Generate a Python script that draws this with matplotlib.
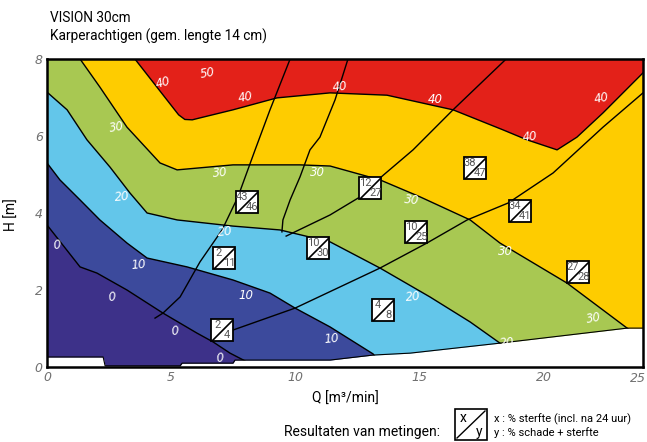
import matplotlib
matplotlib.use("Agg")
import matplotlib.pyplot as plt
from matplotlib import font_manager
from matplotlib.path import Path
from matplotlib.patches import Rectangle
from matplotlib.lines import Line2D

Q_MAX, H_MAX = 24.0, 8.0

# lower edge of the measured field (white underneath)
bot_q = [0, 2.26, 2.34, 5.36, 5.44, 7.49, 7.57, 11.4, 13.13, 14.62, 18.24, 23.36, 24.0]
bot_h = [0.26, 0.26, 0.03, 0.03, 0.10, 0.10, 0.18, 0.18, 0.31, 0.36, 0.62, 1.01, 1.01]

# iso-lines of % schade + sterfte
c0_q = [0, 1.33, 2.01, 3.22, 4.67, 6.04, 6.69, 7.37, 7.97, 8.26]
c0_h = [3.69, 2.60, 2.44, 2.00, 1.40, 0.88, 0.65, 0.36, 0.16, -0.05]
c10_q = [0, 0.52, 1.33, 2.13, 3.22, 4.03, 5.64, 7.49, 8.98, 9.99, 11.40, 13.13, 13.41]
c10_h = [5.30, 4.86, 4.34, 3.82, 3.22, 2.83, 2.60, 2.26, 1.92, 1.53, 1.04, 0.34, 0.10]
c20_q = [0, 0.81, 1.61, 2.54, 3.34, 4.03, 5.24, 7.49, 9.38, 11.40, 13.41, 15.42, 17.04, 18.24, 18.85]
c20_h = [7.14, 6.68, 5.90, 5.19, 4.52, 4.00, 3.82, 3.66, 3.56, 3.25, 2.57, 1.82, 1.17, 0.62, 0.31]
c30_q = [1.33, 2.13, 3.22, 4.55, 5.24, 7.49, 10.19, 11.40, 13.41, 15.02, 17.04, 18.24, 20.94, 23.36, 24.0]
c30_h = [8.0, 7.27, 6.23, 5.30, 5.12, 5.25, 5.25, 5.22, 4.86, 4.42, 3.82, 3.22, 2.18, 1.01, 0.70]
c40_q = [3.54, 5.30, 5.55, 5.85, 6.16, 7.49, 9.26, 11.40, 13.69, 16.35, 18.36, 19.33, 20.54, 21.34, 22.39, 24.0]
c40_h = [8.0, 6.55, 6.43, 6.42, 6.47, 6.68, 6.99, 7.12, 7.06, 6.68, 6.16, 5.90, 5.64, 5.97, 6.60, 7.64]

# pump / system curves
la_q = [7.49, 9.99, 13.41, 15.30, 16.92, 18.57, 20.38, 22.39, 24.0]
la_h = [0.96, 1.53, 2.57, 3.22, 3.82, 4.26, 5.04, 6.23, 7.12]
lb_q = [9.63, 11.40, 12.61, 13.41, 14.74, 16.35, 18.49]
lb_h = [3.40, 3.95, 4.42, 4.91, 5.64, 6.68, 8.0]
lc_q = [9.79, 8.98, 8.38, 7.69, 7.05, 6.16, 5.36, 4.67, 4.35]
lc_h = [8.0, 6.68, 5.64, 4.42, 3.56, 2.73, 1.82, 1.40, 1.27]
ld_q = [12.12, 11.60, 10.99, 10.59, 10.19, 9.79, 9.50, 9.46]
ld_h = [8.0, 6.94, 5.97, 5.64, 4.94, 4.34, 3.82, 3.51]

# measurements: x = % sterfte, y = % schade + sterfte
meas_q = [8.05, 13.01, 7.13, 10.91, 14.86, 17.24, 19.05, 21.39, 13.53, 7.05]
meas_h = [4.29, 4.65, 2.83, 3.09, 3.51, 5.17, 4.05, 2.47, 1.48, 0.96]
meas_x = [43, 12, 2, 10, 10, 38, 34, 27, 4, 2]
meas_y = [46, 27, 11, 30, 25, 47, 41, 28, 8, 4]

# iso-line labels
lab_txt = ["50", "40", "40", "40", "40", "40", "40",
           "30", "30", "30", "30", "30", "30",
           "20", "20", "20", "20", "10", "10", "10",
           "0", "0", "0", "0"]
lab_q = [6.45, 4.67, 8.0, 11.80, 15.63, 19.45, 22.35,
         2.82, 6.97, 10.88, 14.70, 18.45, 22.03,
         3.02, 7.17, 14.74, 18.53, 3.67, 8.02, 11.47,
         0.40, 2.62, 5.16, 6.97]
lab_h = [7.64, 7.38, 7.01, 7.27, 6.96, 5.97, 6.99,
         6.23, 5.04, 5.04, 4.34, 3.01, 1.27,
         4.42, 3.51, 1.82, 0.62, 2.65, 1.87, 0.73,
         3.17, 1.82, 0.94, 0.23]
lab_rot = [10, 15, 10, 5, 0, 5, 10,
           10, 5, 0, -5, 0, 10,
           5, 5, 5, 5, 5, 0, 5,
           5, 5, 5, 5]

band_colors = ["#3d3189", "#3c4a9c", "#63c6ea", "#a8c852", "#fecc00", "#e32119"]

names = {f.name for f in font_manager.fontManager.ttflist}
narrow = "Liberation Sans Narrow" if "Liberation Sans Narrow" in names else "Roboto"


def above(q, h, start, end):
    qs, hs = list(q), list(h)
    if end == "bottom":
        qs += [Q_MAX, Q_MAX]
        hs += [0, H_MAX]
    else:
        qs += [Q_MAX]
        hs += [H_MAX]
    if start == "left":
        qs += [0]
        hs += [H_MAX]
    return qs, hs


fig = plt.figure(figsize=(6.47, 4.42), dpi=100)
ax = fig.add_axes([47 / 647, 1 - 367 / 442, 596 / 647, 308 / 442])
ax.set_facecolor(band_colors[0])

contours = [(c0_q, c0_h, "left", "bottom"),
            (c10_q, c10_h, "left", "bottom"),
            (c20_q, c20_h, "left", "bottom"),
            (c30_q, c30_h, "top", "bottom"),
            (c40_q, c40_h, "top", "right")]
for (q, h, s, e), col in zip(contours, band_colors[1:]):
    qs, hs = above(q, h, s, e)
    ax.fill(qs, hs, color=col, lw=0, zorder=1)
    ax.plot(q, h, color="black", lw=1.0, zorder=2)

for q, h in [(la_q, la_h), (lb_q, lb_h), (lc_q, lc_h), (ld_q, ld_h)]:
    ax.plot(q, h, color="black", lw=1.0, zorder=3)

# white strip below the field
ax.fill_between(bot_q, -1, bot_h, color="white", lw=0, zorder=4)
ax.plot(bot_q, bot_h, color="black", lw=0.8, zorder=4)

for t, q, h, r in zip(lab_txt, lab_q, lab_h, lab_rot):
    ax.text(q, h, t, color="white", fontsize=8.5, style="italic",
            rotation=r, ha="center", va="center", zorder=5)

diag = Path([(-1, -1), (1, 1)], [Path.MOVETO, Path.LINETO])
ax.plot(meas_q, meas_h, "s", ms=16, mfc="white", mec="black", mew=1.3, zorder=6)
ax.plot(meas_q, meas_h, ls="none", marker=diag, ms=15, mec="black", mew=1.2, zorder=7)
for q, h, x, y in zip(meas_q, meas_h, meas_x, meas_y):
    ax.annotate(str(x), (q, h), xytext=(-3.6, 3.4), textcoords="offset points",
                ha="center", va="center", fontsize=8, color="#555555",
                family=narrow, zorder=8)
    ax.annotate(str(y), (q, h), xytext=(3.8, -3.6), textcoords="offset points",
                ha="center", va="center", fontsize=8, color="#555555",
                family=narrow, zorder=8)

ax.set_xlim(0, Q_MAX)
ax.set_ylim(0, H_MAX)
ax.set_xticks([0, 5, 10, 15, 20])
ax.set_yticks([0, 2, 4, 6, 8])
ax.tick_params(length=0, labelsize=9, labelcolor="#707070", pad=3)
for lbl in ax.get_xticklabels() + ax.get_yticklabels():
    lbl.set_style("italic")
fig.text(646 / 647, 1 - 379 / 442, "25", ha="right", va="center",
         fontsize=9, color="#707070", style="italic")
for sp in ax.spines.values():
    sp.set_linewidth(1.8)
    sp.set_zorder(9)

fig.text(50 / 647, 1 - 18 / 442, "VISION 30cm", family=narrow, fontsize=9.8, va="center")
fig.text(50 / 647, 1 - 36 / 442, "Karperachtigen (gem. lengte 14 cm)", family=narrow,
         fontsize=9.8, va="center")
fig.text(12 / 647, 1 - 215 / 442, "H [m]", family=narrow, fontsize=10, rotation=90,
         ha="center", va="center")
fig.text(345 / 647, 1 - 399 / 442, "Q [m³/min]", family=narrow, fontsize=10,
         ha="center", va="center")

# legend
fig.text(440 / 647, 1 - 432 / 442, "Resultaten van metingen:", family=narrow,
         fontsize=10, ha="right", va="center")
fig.add_artist(Rectangle((455 / 647, 1 - 440 / 442), 32 / 647, 31 / 442,
                         transform=fig.transFigure, fc="white", ec="black", lw=1.2))
fig.add_artist(Line2D([457 / 647, 485 / 647], [1 - 438 / 442, 1 - 411 / 442],
                      transform=fig.transFigure, color="black", lw=1.0))
fig.text(463 / 647, 1 - 418 / 442, "x", family=narrow, fontsize=10, ha="center", va="center")
fig.text(479 / 647, 1 - 432 / 442, "y", family=narrow, fontsize=10, ha="center", va="center")
fig.text(494 / 647, 1 - 419 / 442, "x : % sterfte (incl. na 24 uur)", family=narrow,
         fontsize=8, va="center")
fig.text(494 / 647, 1 - 433 / 442, "y : % schade + sterfte", family=narrow,
         fontsize=8, va="center")

fig.savefig("out.png", dpi=100)
